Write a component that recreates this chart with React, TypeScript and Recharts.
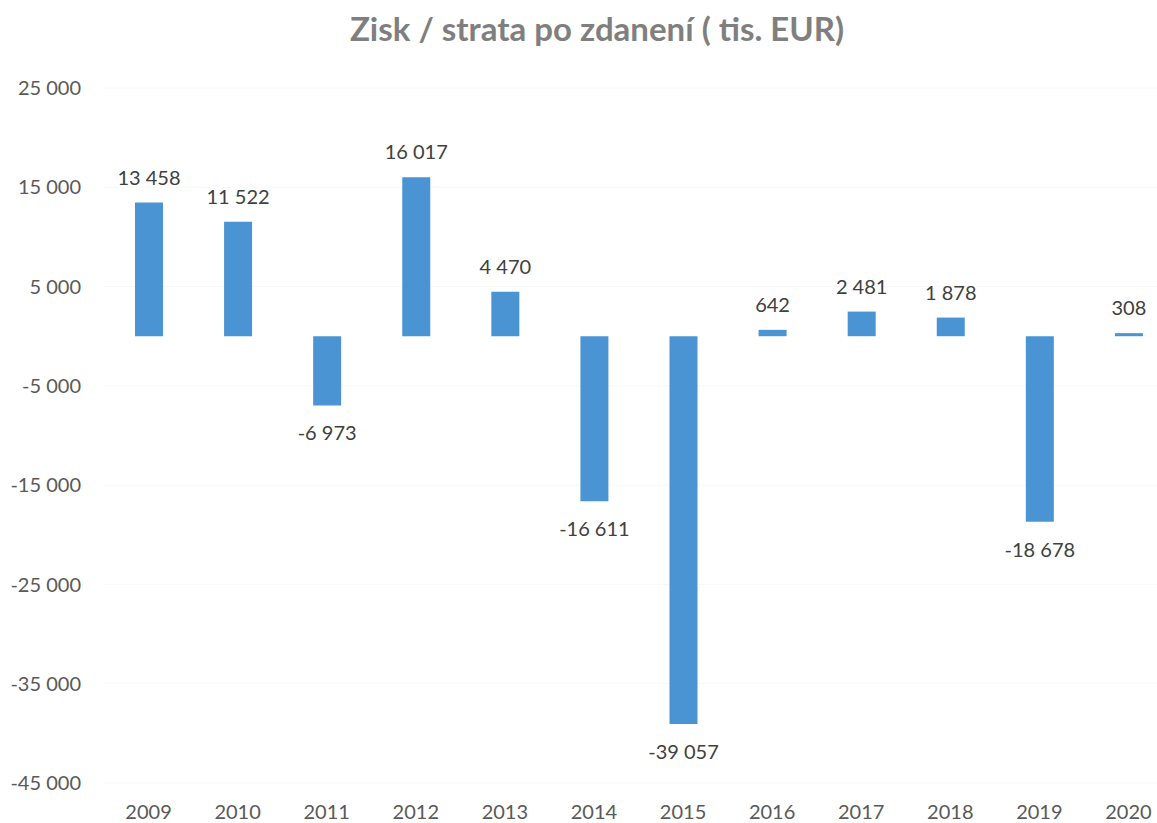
import React from 'react';
import { BarChart, Bar, XAxis, YAxis, CartesianGrid, LabelList } from 'recharts';

// hodnoty z grafu (tis. EUR)
const years = ['2009', '2010', '2011', '2012', '2013', '2014', '2015', '2016', '2017', '2018', '2019', '2020'];
const profit = [13458, 11522, -6973, 16017, 4470, -16611, -39057, 642, 2481, 1878, -18678, 308];
const yTicks = [25000, 15000, 5000, -5000, -15000, -25000, -35000, -45000];

const data = years.map((year, i) => ({ year, value: profit[i] }));

const fmt = (v: number) => {
  const s = String(Math.abs(v)).replace(/\B(?=(\d{3})+(?!\d))/g, ' ');
  return v < 0 ? '-' + s : s;
};

const FONT = 'Lato, "Noto Sans", sans-serif';

const ValueLabel = (props: any) => {
  const { x, y, width, height, value } = props;
  const top = Math.min(y, y + height);
  const bottom = Math.max(y, y + height);
  const ty = value >= 0 ? top - 18 : bottom + 35;
  return (
    <text x={x + width / 2} y={ty} textAnchor="middle" fill="#404040" fontSize={20} fontFamily={FONT}>
      {fmt(value)}
    </text>
  );
};

export default function App() {
  return (
    <div
      style={{
        position: 'fixed',
        left: 0,
        top: 0,
        width: 1157,
        height: 823,
        overflow: 'hidden',
        background: '#fff',
      }}
    >
      <div
        style={{
          position: 'absolute',
          left: 0,
          top: 12,
          width: 1194,
          textAlign: 'center',
          fontFamily: FONT,
          fontWeight: 700,
          fontSize: 33,
          lineHeight: '33px',
          color: '#7f7f7f',
        }}
      >
        Zisk / strata po zdanení ( tis. EUR)
      </div>
      <BarChart
        width={1174}
        height={823}
        data={data}
        margin={{ top: 88, right: 1, bottom: 0, left: 0 }}
      >
        <CartesianGrid vertical={false} stroke="#f8f8f8" />
        <XAxis
          dataKey="year"
          axisLine={false}
          tickLine={false}
          tickSize={0}
          tickMargin={22}
          height={40}
          interval={0}
          tick={{ fill: '#595959', fontSize: 20, fontFamily: FONT }}
        />
        <YAxis
          type="number"
          domain={[-45000, 25000]}
          ticks={yTicks}
          axisLine={false}
          tickLine={false}
          tickSize={0}
          tickMargin={23}
          width={104}
          interval={0}
          tickFormatter={fmt}
          tick={{ fill: '#595959', fontSize: 20, fontFamily: FONT }}
        />
        <Bar dataKey="value" fill="#4a94d3" barSize={28} isAnimationActive={false}>
          <LabelList dataKey="value" content={ValueLabel} />
        </Bar>
      </BarChart>
    </div>
  );
}
